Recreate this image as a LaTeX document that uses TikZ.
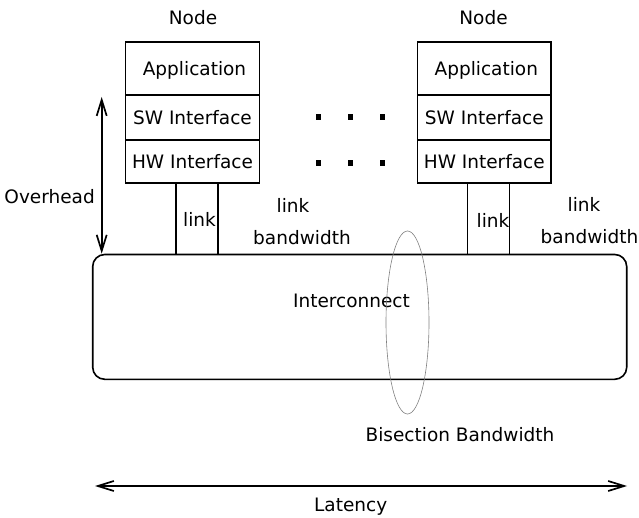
\documentclass[tikz,border=0pt]{standalone}
\usepackage{fontspec}
\setmainfont{DejaVu Sans}
\usetikzlibrary{arrows.meta,shapes.geometric}
\begin{document}
\begin{tikzpicture}[x=1pt,y=-1pt,
  lbl/.style={font=\fontsize{18.5}{22}\selectfont, inner sep=0pt},
  layer/.style={draw, line width=1.4pt, minimum width=133.5pt, inner sep=0pt,
    font=\fontsize{18.5}{22}\selectfont, text height=13.5pt, text depth=0pt},
  wire/.style={line width=1.5pt},
  dimarrow/.style={line width=1.7pt,
    {Straight Barb[length=16pt,width=10pt,line width=1.7pt]}-{Straight Barb[length=16pt,width=10pt,line width=1.7pt]}},
  dotsq/.style={fill=black, minimum width=5pt, minimum height=6pt, inner sep=0pt}
]
\useasboundingbox (0,0) rectangle (639,518);

% left node stack
\node[lbl, anchor=base] (nodeL) at (193,24.3) {Node};
\node[layer, minimum height=53pt] (appL) at (192.5,68.5) {\hspace{4pt}Application};
\node[layer, minimum height=45pt] (swL) at (192.5,117.5) {SW Interface};
\node[layer, minimum height=43pt] (hwL) at (192.5,161.5) {HW Interface};

% right node stack
\node[lbl, anchor=base] (nodeR) at (483.5,24.3) {Node};
\node[layer, minimum height=53pt] (appR) at (484.3,68.5) {\hspace{4pt}Application};
\node[layer, minimum height=45pt] (swR) at (484.3,117.5) {SW Interface};
\node[layer, minimum height=43pt] (hwR) at (484.3,161.5) {HW Interface};

% interconnect
\node[draw, line width=1.6pt, rounded corners=12pt, minimum width=534pt,
      minimum height=124.8pt, inner sep=0pt] (ic) at (359.7,316.9) {};
\node[lbl, anchor=base] (icl) at (351.5,307) {Interconnect};

% bisection ellipse
\node[ellipse, draw=gray, line width=0.6pt, minimum width=43pt, minimum height=183pt,
      inner sep=0pt] (bis) at (407.5,322.5) {};
\node[lbl, anchor=base] (bisl) at (460,441) {Bisection Bandwidth};

% links
\draw[wire] ([xshift=-16.5pt]hwL.south) -- ([xshift=-16.5pt]hwL.south |- ic.north);
\draw[wire] ([xshift=25.5pt]hwL.south) -- ([xshift=25.5pt]hwL.south |- ic.north);
\draw[wire] ([xshift=-16.8pt]hwR.south) -- ([xshift=-16.8pt]hwR.south |- ic.north);
\draw[wire] ([xshift=25.2pt]hwR.south) -- ([xshift=25.2pt]hwR.south |- ic.north);

\node[lbl, anchor=base] (linkL) at (199.5,227) {link};
\node[lbl, anchor=base] (linkR) at (493,228) {link};
\node[lbl, anchor=base] (lbL1) at (293,212.5) {link};
\node[lbl, anchor=base] (lbL2) at (302,245) {bandwidth};
\node[lbl, anchor=base] (lbR1) at (584,212) {link};
\node[lbl, anchor=base] (lbR2) at (589.5,244) {bandwidth};

% dots
\foreach \i/\x in {1/318,2/350,3/382}{
  \node[dotsq] (dA\i) at (\x,117.5) {};
  \node[dotsq] (dB\i) at (\x,163) {};
}

% overhead
\coordinate (ohT) at (101.7,97);
\draw[dimarrow] (ohT) -- (ohT |- ic.north);
\node[lbl, anchor=base east] (ohl) at (95,203.3) {Overhead};

% latency
\coordinate (latL) at (95,486);
\coordinate (latR) at (627,486);
\draw[dimarrow] (latL) -- (latR);
\node[lbl, anchor=base] (latl) at (350.7,511.7) {Latency};
\end{tikzpicture}
\end{document}
